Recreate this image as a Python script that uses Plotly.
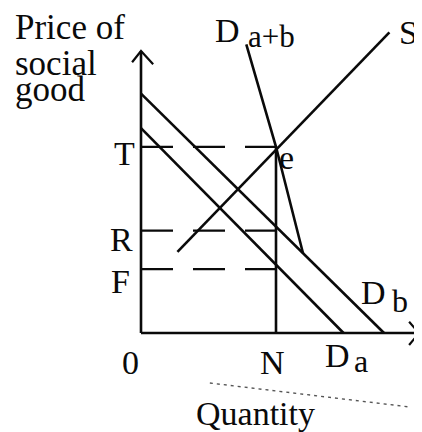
import plotly.graph_objects as go

# equilibrium quantity and the three price levels on the vertical axis
N = 5.0
T = 7.0
R = 3.85
F = 2.4

# demand curves of the two people and their vertical sum, supply curve
DA_Q = [0.0, 7.5]
DA_P = [7.7, 0.0]
DB_Q = [0.0, 9.0]
DB_P = [9.0, 0.0]
DAB_Q = [3.9, 5.0, 6.0]
DAB_P = [10.85, 7.0, 3.0]
S_Q = [1.35, 9.2]
S_P = [3.05, 11.3]

# faint dotted streak from the scan, under the quantity axis
SCAN_Q = [2.55, 9.95]
SCAN_P = [-1.88, -2.78]

# axis lengths
X_END = 10.3
Y_END = 10.6

INK = "#0a0a0a"
FONT = "Liberation Serif"
LW = 2.6


def _line(x, y, dash="solid", width=LW, color=INK):
    return go.Scatter(
        x=x, y=y, mode="lines", hoverinfo="skip", showlegend=False,
        line={"color": color, "width": width, "dash": dash},
    )


def _label(fig, text, x, y, size=34, xanchor="center", yanchor="middle", xshift=0, yshift=0):
    fig.add_annotation(
        text=text, x=x, y=y, xref="x", yref="y", showarrow=False,
        xanchor=xanchor, yanchor=yanchor, xshift=xshift, yshift=yshift,
        font={"family": FONT, "size": size, "color": INK},
    )


fig = go.Figure()

# axes with open arrow heads
fig.add_trace(_line([0, X_END], [0, 0]))
fig.add_trace(_line([0, 0], [0, Y_END]))
fig.add_trace(_line([X_END - 0.37, X_END, X_END - 0.37], [0.42, 0, -0.45], width=2.2))
fig.add_trace(_line([-0.33, 0, 0.45], [Y_END - 0.42, Y_END, Y_END - 0.5], width=2.2))

# dashed price levels and the vertical at N
for level in (T, R, F):
    fig.add_trace(_line([0, N], [level, level], dash="32px,20px", width=2.3))
fig.add_trace(_line([N, N], [0, T]))

# curves
fig.add_trace(_line(DA_Q, DA_P))
fig.add_trace(_line(DB_Q, DB_P))
fig.add_trace(_line(DAB_Q, DAB_P))
fig.add_trace(_line(S_Q, S_P))

fig.add_trace(_line(SCAN_Q, SCAN_P, dash="3px,4px", width=1.4, color="#555"))

# axis titles
_label(fig, "Price of", -4.75, Y_END, size=35, xanchor="left", yshift=24)
_label(fig, "social", -4.75, Y_END, size=35, xanchor="left", yshift=-12)
_label(fig, "good", -4.75, Y_END, size=35, xanchor="left", yshift=-38)
_label(fig, "Quantity", N - 0.75, 0, yshift=-80)

# tick letters
_label(fig, "T", 0, T, xanchor="right", xshift=-4, yshift=-7)
_label(fig, "R", 0, R, xanchor="right", xshift=-6, yshift=-9)
_label(fig, "F", 0, F, xanchor="right", xshift=-9, yshift=-12)
_label(fig, "0", 0, 0, xshift=-11, yshift=-29)
_label(fig, "N", N, 0, xshift=-4, yshift=-29)
_label(fig, "e", N, T, xanchor="left", xshift=1, yshift=-11)

# curve names
_label(fig, "D", DAB_Q[0], DAB_P[0], xanchor="right", xshift=-4, yshift=14)
_label(fig, "a+b", DAB_Q[0], DAB_P[0], size=31, xanchor="left", xshift=0, yshift=8)
_label(fig, "S", S_Q[1], S_P[1], xanchor="left", xshift=8, yshift=0)
_label(fig, "D", DB_Q[1], 0, xanchor="right", xshift=4, yshift=41)
_label(fig, "b", DB_Q[1], 0, size=32, xanchor="left", xshift=6, yshift=32)
_label(fig, "D", DA_Q[1], 0, xanchor="right", xshift=8, yshift=-22)
_label(fig, "a", DA_Q[1], 0, size=32, xanchor="left", xshift=8, yshift=-28)

# the page body adds an 8px margin, so the figure is 8px smaller than the window
fig.update_layout(
    width=414,
    height=424,
    margin={"l": 0, "r": 0, "t": 0, "b": 0},
    paper_bgcolor="white",
    plot_bgcolor="white",
    xaxis={"visible": False, "range": [-133 / 27, 281 / 27], "fixedrange": True},
    yaxis={"visible": False, "range": [-99 / 26.6, 325 / 26.6], "fixedrange": True},
    showlegend=False,
)

fig.write_html("out.html")
